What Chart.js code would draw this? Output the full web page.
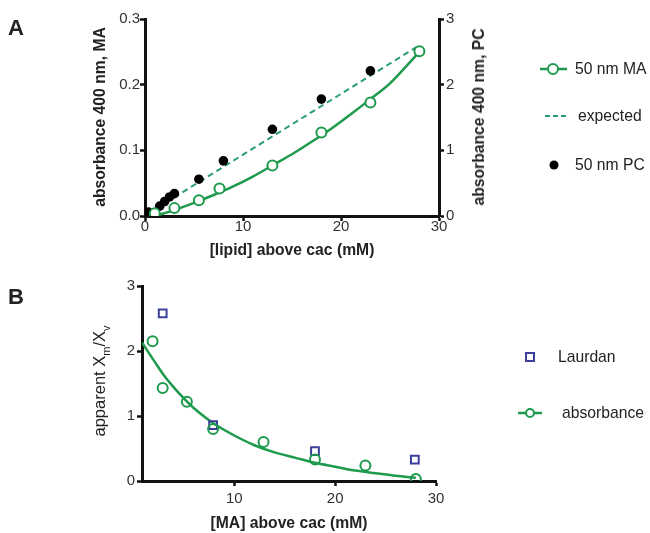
<!DOCTYPE html>
<html>
<head>
<meta charset="utf-8">
<script src="https://cdn.jsdelivr.net/npm/chart.js@4.4.1/dist/chart.umd.min.js"></script>
<style>
body { margin: 0; background: #fff; font-family: "Liberation Sans", Arial, sans-serif; }
#wrap { position: relative; width: 650px; height: 533px; overflow: hidden; }
canvas { position: absolute; left: 0; }
.t { position: absolute; white-space: nowrap; color: #222; transform: translate(0, -50%); }
.c { position: absolute; white-space: nowrap; color: #222; transform: translate(-50%, -50%); }
.r { position: absolute; white-space: nowrap; color: #222; transform: translate(-50%, -50%) rotate(-90deg); }
.b { font-weight: bold; font-size: 15.7px; }
.leg { font-size: 15.7px; }
sub { font-size: 11px; }
</style>
</head>
<body>
<div id="wrap">
  <canvas id="chartA" width="500" height="265" style="top:0"></canvas>
  <canvas id="chartB" width="500" height="263" style="top:270px"></canvas>

  <div class="c" style="left:16px; top:28px; font-weight:bold; font-size:22px">A</div>
  <div class="c" style="left:16px; top:297px; font-weight:bold; font-size:22px">B</div>

  <div class="r b" style="left:100px; top:117px">absorbance 400 nm, MA</div>
  <div class="r b" style="left:479px; top:117px">absorbance 400 nm, PC</div>
  <div class="c b" style="left:292px; top:250px">[lipid] above cac (mM)</div>

  <div class="r" style="left:101px; top:381px; font-size:16.5px">apparent X<sub>m</sub>/X<sub>v</sub></div>
  <div class="c b" style="left:289px; top:523px">[MA] above cac (mM)</div>

  <svg width="650" height="533" style="position:absolute; left:0; top:0">
    <line x1="540" y1="69" x2="567" y2="69" stroke="#1e9a4c" stroke-width="2.5"/>
    <circle cx="553" cy="69" r="5" fill="#fff" stroke="#1e9a4c" stroke-width="2"/>
    <line x1="545" y1="116" x2="567" y2="116" stroke="#2a9e6c" stroke-width="2" stroke-dasharray="5,3"/>
    <circle cx="554" cy="165" r="4.5" fill="#000"/>
    <rect x="526" y="353" width="8" height="8" fill="#fff" stroke="#3b3f9a" stroke-width="2"/>
    <line x1="518" y1="413" x2="542" y2="413" stroke="#1e9a4c" stroke-width="2.5"/>
    <circle cx="530" cy="413" r="4" fill="#fff" stroke="#1e9a4c" stroke-width="2"/>
  </svg>
  <div class="t leg" style="left:575px; top:69px">50 nm MA</div>
  <div class="t leg" style="left:578px; top:116px">expected</div>
  <div class="t leg" style="left:575px; top:165px">50 nm PC</div>
  <div class="t leg" style="left:558px; top:357px">Laurdan</div>
  <div class="t leg" style="left:562px; top:413px">absorbance</div>
</div>

<script>
// panel A
const maX = [1.0, 3.0, 5.5, 7.6, 13.0, 18.0, 23.0, 28.0];
const maY = [0.004, 0.012, 0.024, 0.042, 0.077, 0.127, 0.173, 0.251];
const maFitX = [1, 3, 5, 7, 9, 11, 13, 15, 17, 19, 21, 23, 25, 28];
const maFitY = [0, 0.009, 0.020, 0.032, 0.045, 0.060, 0.077, 0.094, 0.113, 0.133, 0.155, 0.178, 0.202, 0.250];
const expectedX = [0.35, 28];
const expectedY = [0.004, 0.260];
const pcX = [0.35, 1.5, 2.0, 2.5, 3.0, 5.5, 8.0, 13.0, 18.0, 23.0];
const pcY = [0.06, 0.15, 0.22, 0.29, 0.34, 0.56, 0.84, 1.32, 1.78, 2.21];

const xTicksA = [0, 10, 20, 30];
const yTicksA = [0, 0.1, 0.2, 0.3];
const y2TicksA = [0, 1, 2, 3];

// panel B
const absX = [1.9, 2.9, 5.3, 7.9, 12.9, 18.0, 23.0, 28.0];
const absY = [2.15, 1.43, 1.22, 0.80, 0.60, 0.33, 0.24, 0.03];
const laurdanX = [2.9, 7.9, 18.0, 27.9];
const laurdanY = [2.58, 0.86, 0.46, 0.33];
const absFitX = [0.85, 2, 3, 4, 5, 6, 8, 10, 12, 14, 16, 18, 20, 22, 24, 26, 28];
const absFitY = [2.13, 1.86, 1.63, 1.44, 1.27, 1.12, 0.88, 0.70, 0.55, 0.44, 0.36, 0.28, 0.22, 0.16, 0.12, 0.08, 0.05];

const xTicksB = [10, 20, 30];
const yTicksB = [0, 1, 2, 3];

const green = '#1e9a4c';
const dashGreen = '#2a9e6c';
const blue = '#3b3f9a';

function pts(xs, ys) {
    return xs.map((x, i) => ({x: x, y: ys[i]}));
}

function axis(ticks, min, max, pos, size, pad, fmt) {
    return {
        type: 'linear',
        position: pos,
        min: min,
        max: max,
        afterBuildTicks: s => { s.ticks = ticks.map(v => ({value: v})); },
        afterFit: s => {
            if (pos === 'bottom') s.height = size; else s.width = size;
        },
        grid: {display: true, drawOnChartArea: false, drawTicks: true, tickLength: 5, tickWidth: 2.5, tickColor: '#111'},
        border: {display: true, width: 3, color: '#111'},
        ticks: {
            color: '#333',
            padding: pad,
            font: {family: 'Liberation Sans', size: 15},
            callback: fmt || (v => String(v))
        }
    };
}

const common = {
    responsive: false,
    animation: false,
    plugins: {legend: {display: false}, tooltip: {enabled: false}}
};

new Chart(document.getElementById('chartA'), {
    type: 'scatter',
    data: {
        datasets: [
            {data: pts(maX, maY), pointRadius: 5, pointBorderWidth: 2, pointBorderColor: green, pointBackgroundColor: '#fff', showLine: false, yAxisID: 'y'},
            {data: pts(pcX, pcY), pointRadius: 4.8, pointBorderWidth: 0, pointBackgroundColor: '#000', showLine: false, yAxisID: 'y2'},
            {data: pts(maFitX, maFitY), showLine: true, pointRadius: 0, borderColor: green, borderWidth: 2.5, tension: 0.3, yAxisID: 'y'},
            {data: pts(expectedX, expectedY), showLine: true, pointRadius: 0, borderColor: dashGreen, borderWidth: 2, borderDash: [6, 4], yAxisID: 'y'}
        ]
    },
    options: Object.assign({}, common, {
        layout: {padding: {top: 19, left: 0, right: 0, bottom: 0}},
        scales: {
            x: axis(xTicksA, 0, 30, 'bottom', 49, -3),
            y: axis(yTicksA, 0, 0.3, 'left', 145, 0, v => v.toFixed(1)),
            y2: axis(y2TicksA, 0, 3, 'right', 61, 2)
        }
    })
});

new Chart(document.getElementById('chartB'), {
    type: 'scatter',
    data: {
        datasets: [
            {data: pts(absX, absY), pointRadius: 5, pointBorderWidth: 2, pointBorderColor: green, pointBackgroundColor: 'rgba(255,255,255,0)', showLine: false},
            {data: pts(laurdanX, laurdanY), pointStyle: 'rect', pointRadius: 5.5, pointBorderWidth: 2, pointBorderColor: blue, pointBackgroundColor: 'rgba(255,255,255,0)', showLine: false},
            {data: pts(absFitX, absFitY), showLine: true, pointRadius: 0, borderColor: green, borderWidth: 2.5, tension: 0.3}
        ]
    },
    options: Object.assign({}, common, {
        layout: {padding: {top: 16, left: 0, right: 64, bottom: 0}},
        scales: {
            x: axis(xTicksB, 0.85, 30, 'bottom', 52, 4),
            y: axis(yTicksB, 0, 3, 'left', 142, 2)
        }
    })
});
</script>
</body>
</html>
